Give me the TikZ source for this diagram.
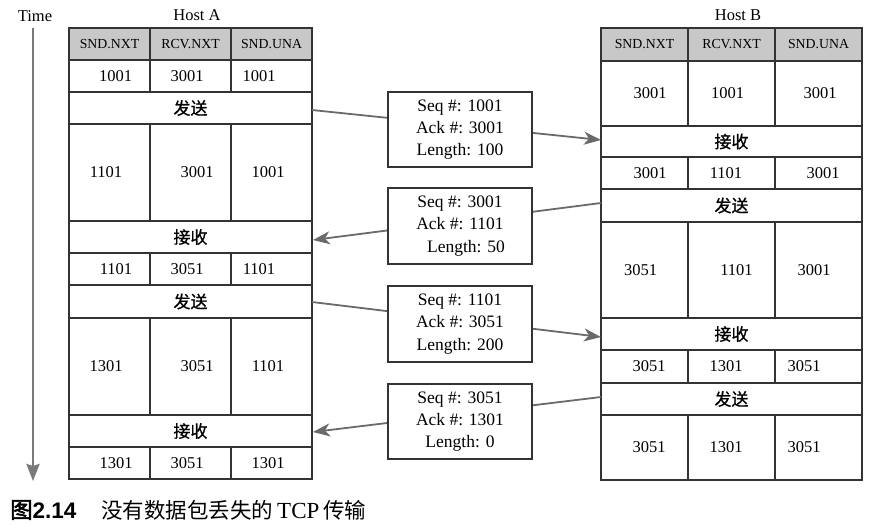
\documentclass[tikz,border=0pt]{standalone}
\usepackage{fontspec}
\setmainfont{Liberation Serif}
\newfontfamily\cjk{Noto Sans CJK SC}
\newfontfamily\cjkm[FakeBold=0.8]{Noto Sans CJK SC}
\newfontfamily\cjkb[FakeBold=2.5]{Noto Sans CJK SC}
\newfontfamily\capsans{Liberation Sans}
\usetikzlibrary{arrows.meta}
\definecolor{linec}{HTML}{333333}
\definecolor{hdrfill}{HTML}{C8C8C8}
\definecolor{arrc}{HTML}{6A6A6A}
\begin{document}
\begin{tikzpicture}[x=1pt,y=-1pt,
  cellbox/.style={draw=linec, line width=1.3pt, inner sep=0pt, minimum width=#1},
  hdrcell/.style={cellbox=#1, fill=hdrfill, font=\fontsize{13.8}{16}\selectfont},
  fullrow/.style={cellbox=#1, font=\cjkm\fontsize{17}{20}\selectfont},
  num/.style={inner sep=0pt, font=\fontsize{16.5}{19}\selectfont},
  msgbox/.style={draw=linec, line width=1.4pt, fill=white, minimum width=144pt, inner sep=0pt,
     align=center, font=\fontsize{17.5}{22.3}\selectfont},
  msgarr/.style={draw=arrc, line width=1.8pt, -{Stealth[length=17pt,width=13pt,inset=5pt]}},
  timearr/.style={draw=arrc!90, line width=2.6pt, -{Stealth[length=17pt,width=13pt,inset=2pt]}},
  lbl/.style={inner sep=0pt, font=\fontsize{16.5}{19}\selectfont}
]
\useasboundingbox (0,0) rectangle (887,531);

% ---------- Time axis ----------
\node[lbl] (time) at (35,16) {Time};
\coordinate (t0) at (33,28);
\coordinate (t1) at (33,481);
\draw[timearr] (t0) -- (t1);

% ---------- Host A ----------
\node[lbl] (hostA) at (197,15) {Host A};
\foreach \x/\t [count=\i] in {109.5/SND.NXT,190.5/RCV.NXT,271.5/SND.UNA}
  \node[hdrcell=81pt, minimum height=32pt] (AH\i) at (\x,44) {\t};
\foreach \yc/\h/\r in {76/32/1,172.5/97/2,269/32/3,366.5/97/4,463/32/5}
  \foreach \x [count=\i] in {109.5,190.5,271.5}
    \node[cellbox=81pt, minimum height=\h pt] (AC\r-\i) at (\x,\yc) {};
\node[fullrow=243pt, minimum height=32pt] (As1) at (190.5,108) {发送};
\node[fullrow=243pt, minimum height=32pt] (As2) at (190.5,237) {接收};
\node[fullrow=243pt, minimum height=33pt] (As3) at (190.5,301.5) {发送};
\node[fullrow=243pt, minimum height=32pt] (As4) at (190.5,431) {接收};
\foreach \x/\t [count=\i] in {115.5/1001,187/3001,259/1001}
  \node[num] (AN1-\i) at (\x,76) {\t};
\foreach \x/\t [count=\i] in {106/1101,197/3001,268/1001}
  \node[num] (AN2-\i) at (\x,172.5) {\t};
\foreach \x/\t [count=\i] in {116/1101,187/3051,259/1101}
  \node[num] (AN3-\i) at (\x,269) {\t};
\foreach \x/\t [count=\i] in {106/1301,197/3051,268/1101}
  \node[num] (AN4-\i) at (\x,366.5) {\t};
\foreach \x/\t [count=\i] in {116/1301,187/3051,268/1301}
  \node[num] (AN5-\i) at (\x,463) {\t};

% ---------- Host B ----------
\node[lbl] (hostB) at (738,15) {Host B};
\foreach \x/\t [count=\i] in {644.5/SND.NXT,731.5/RCV.NXT,818.5/SND.UNA}
  \node[hdrcell=87pt, minimum height=33pt] (BH\i) at (\x,44.5) {\t};
\foreach \yc/\h/\r in {93.5/65/1,173/32/2,270/96/3,366.5/33/4,447.5/65/5}
  \foreach \x [count=\i] in {644.5,731.5,818.5}
    \node[cellbox=87pt, minimum height=\h pt] (BC\r-\i) at (\x,\yc) {};
\node[fullrow=261pt, minimum height=31pt] (Bs1) at (731.5,141.5) {接收};
\node[fullrow=261pt, minimum height=33pt] (Bs2) at (731.5,205.5) {发送};
\node[fullrow=261pt, minimum height=32pt] (Bs3) at (731.5,334) {接收};
\node[fullrow=261pt, minimum height=32pt] (Bs4) at (731.5,399) {发送};
\foreach \x/\t [count=\i] in {650/3001,727.5/1001,820/3001}
  \node[num] (BN1-\i) at (\x,93.5) {\t};
\foreach \x/\t [count=\i] in {650/3001,726/1101,823/3001}
  \node[num] (BN2-\i) at (\x,173) {\t};
\foreach \x/\t [count=\i] in {640.5/3051,736.5/1101,814/3001}
  \node[num] (BN3-\i) at (\x,270) {\t};
\foreach \x/\t [count=\i] in {649/3051,726/1301,804/3051}
  \node[num] (BN4-\i) at (\x,366.5) {\t};
\foreach \x/\t [count=\i] in {649/3051,726/1301,804/3051}
  \node[num] (BN5-\i) at (\x,447.5) {\t};

% ---------- connectors (drawn beneath the message boxes) ----------
\coordinate (a1) at (312,110);  \coordinate (b1) at (601,140);
\coordinate (b2) at (601,203);  \coordinate (a2) at (313,240);
\coordinate (a3) at (312,302);  \coordinate (b3) at (601,337);
\coordinate (b4) at (601,397);  \coordinate (a4) at (313,432);
\draw[msgarr] (a1) -- (b1);
\draw[msgarr] (b2) -- (a2);
\draw[msgarr] (a3) -- (b3);
\draw[msgarr] (b4) -- (a4);

% ---------- message boxes ----------
\node[msgbox, minimum height=75pt] (m1) at (460,129.5) {Seq \#: 1001\\Ack \#: 3001\\Length: 100};
\node[msgbox, minimum height=76pt] (m2) at (460,226) {Seq \#: 3001\\Ack \#: 1101\\\hspace*{12pt}Length: 50};
\node[msgbox, minimum height=76pt] (m3) at (460,324) {Seq \#: 1101\\Ack \#: 3051\\Length: 200};
\node[msgbox, minimum height=75pt] (m4) at (460,421.5) {Seq \#: 3051\\Ack \#: 1301\\Length: 0};

% ---------- caption ----------
\node[anchor=west, inner sep=0pt] (cap1) at (10,510)
  {{\cjkb\fontsize{22.5}{25}\selectfont 图}{\capsans\bfseries\fontsize{22.5}{25}\selectfont 2.14}};
\node[anchor=west, inner sep=0pt] (cap2) at (101,510)
  {{\cjk\fontsize{21.5}{25}\selectfont 没有数据包丢失的}{\fontsize{23}{25}\selectfont\hspace{4pt}TCP\hspace{4pt}}{\cjk\fontsize{21.5}{25}\selectfont 传输}};
\end{tikzpicture}
\end{document}
